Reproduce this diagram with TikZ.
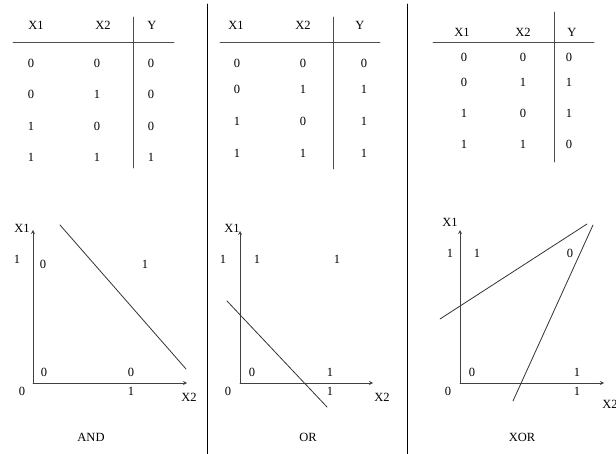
\documentclass[tikz,border=0pt]{standalone}
\usepackage{fontspec}
\setmainfont{Liberation Serif}
\begin{document}
\begin{tikzpicture}[x=1pt,y=-1pt,>=stealth,line join=round,line cap=round,font=\fontsize{12.5}{14}\selectfont]
		\tikzset{
			lbl/.style={inner sep=0pt},
			rule/.style={draw=black!70,line width=0.9pt},
			axis/.style={draw=black!75,line width=0.8pt,->},
			bound/.style={draw=black!80,line width=0.8pt},
			sep/.style={draw=black,line width=0.9pt}
		}
		\useasboundingbox (0,0) rectangle (616,454);
		% panel separators
		\path (207,4) coordinate (S1t) (207,454) coordinate (S1b)
		(407,4) coordinate (S2t) (407,454) coordinate (S2b);
		\draw [sep] (S1t)--(S1b);
		\draw [sep] (S2t)--(S2b);
		
		% AND table
		\node [lbl] (andX1) at (36,25) {X1};
		\node [lbl] (andX2) at (103,25) {X2};
		\node [lbl] (andY) at (152,25) {Y};
		\foreach \y/\a/\b/\c [count=\i] in {63/0/0/0,94/0/1/0,126/1/0/0,157/1/1/1}{
			\node [lbl] (andA\i) at (31,\y) {\a};
			\node [lbl] (andB\i) at (97,\y) {\b};
			\node [lbl] (andC\i) at (151,\y) {\c};
		}
		\path (13,42) coordinate (andHl) (174,42) coordinate (andHr)
		(133,17) coordinate (andVt) (133,168) coordinate (andVb);
		\draw [rule] (andHl)--(andHr);
		\draw [rule] (andVt)--(andVb);
		
		% OR table
		\node [lbl] (orX1) at (236,25) {X1};
		\node [lbl] (orX2) at (303,25) {X2};
		\node [lbl] (orY) at (360,25) {Y};
		\foreach \y/\a/\b/\c [count=\i] in {63/0/0/0,89/0/1/1,121/1/0/1,153/1/1/1}{
			\node [lbl] (orA\i) at (237,\y) {\a};
			\node [lbl] (orB\i) at (303,\y) {\b};
			\node [lbl] (orC\i) at (364,\y) {\c};
		}
		\path (220,42) coordinate (orHl) (380,42) coordinate (orHr)
		(333,17) coordinate (orVt) (333,169) coordinate (orVb);
		\draw [rule] (orHl)--(orHr);
		\draw [rule] (orVt)--(orVb);
		
		% XOR table
		\node [lbl] (xorX1) at (462,32) {X1};
		\node [lbl] (xorX2) at (523,32) {X2};
		\node [lbl] (xorY) at (572,32) {Y};
		\foreach \y/\a/\b/\c [count=\i] in {57/0/0/0,82/0/1/1,113/1/0/1,144/1/1/0}{
			\node [lbl] (xorA\i) at (464,\y) {\a};
			\node [lbl] (xorB\i) at (523,\y) {\b};
			\node [lbl] (xorC\i) at (569,\y) {\c};
		}
		\path (433,42) coordinate (xorHl) (594,42) coordinate (xorHr)
		(554,12) coordinate (xorVt) (554,162) coordinate (xorVb);
		\draw [rule] (xorHl)--(xorHr);
		\draw [rule] (xorVt)--(xorVb);
		
		% AND plane
		\path (33,383) coordinate (andO)
		+(0,-153) coordinate (andYe)
		+(154,0) coordinate (andXe);
		\draw [axis] (andO)--(andYe);
		\draw [axis] (andO)--(andXe);
		\node [lbl] (andLx1) at (22,228) {X1};
		\node [lbl] (andLx2) at (189,397) {X2};
		\node [lbl] (andT0) at (22,391) {0};
		\node [lbl] (andT1x) at (131,391) {1};
		\node [lbl] (andT1y) at (17,259) {1};
		\node [lbl] (andP01) at (43,264) {0};
		\node [lbl] (andP11) at (145,264) {1};
		\node [lbl] (andP00) at (44,372) {0};
		\node [lbl] (andP10) at (131,372) {0};
		\path (60,225) coordinate (andLa) (186,369) coordinate (andLb);
		\draw [bound] (andLa)--(andLb);
		\node [lbl] (andName) at (91,437) {AND};
		
		% OR plane
		\path (240,383) coordinate (orO)
		+(0,-152) coordinate (orYe)
		+(133,0) coordinate (orXe);
		\draw [axis] (orO)--(orYe);
		\draw [axis] (orO)--(orXe);
		\node [lbl] (orLx1) at (232,228) {X1};
		\node [lbl] (orLx2) at (382,397) {X2};
		\node [lbl] (orT0) at (228,391) {0};
		\node [lbl] (orT1x) at (330,391) {1};
		\node [lbl] (orT1y) at (223,259) {1};
		\node [lbl] (orP01) at (257,259) {1};
		\node [lbl] (orP11) at (337,259) {1};
		\node [lbl] (orP00) at (252,372) {0};
		\node [lbl] (orP10) at (330,372) {1};
		\path (227,301) coordinate (orLa) (327,407) coordinate (orLb);
		\draw [bound] (orLa)--(orLb);
		\node [lbl] (orName) at (308,437) {OR};
		
		% XOR plane
		\path (460,383) coordinate (xorO)
		+(0,-153) coordinate (xorYe)
		+(144,0) coordinate (xorXe);
		\draw [axis] (xorO)--(xorYe);
		\draw [axis] (xorO)--(xorXe);
		\node [lbl] (xorLx1) at (450,222) {X1};
		\node [lbl] (xorLx2) at (610,404) {X2};
		\node [lbl] (xorT0) at (448,391) {0};
		\node [lbl] (xorT1x) at (577,391) {1};
		\node [lbl] (xorT1y) at (450,253) {1};
		\node [lbl] (xorP01) at (477,253) {1};
		\node [lbl] (xorP11) at (570,253) {0};
		\node [lbl] (xorP00) at (472,372) {0};
		\node [lbl] (xorP10) at (577,372) {1};
		\path (440,319) coordinate (xorLa) (587,224) coordinate (xorLb)
		(513,401) coordinate (xorLc) (593,225) coordinate (xorLd);
		\draw [bound] (xorLa)--(xorLb);
		\draw [bound] (xorLc)--(xorLd);
		\node [lbl] (xorName) at (522,437) {XOR};
		
	\end{tikzpicture}
\end{document}
